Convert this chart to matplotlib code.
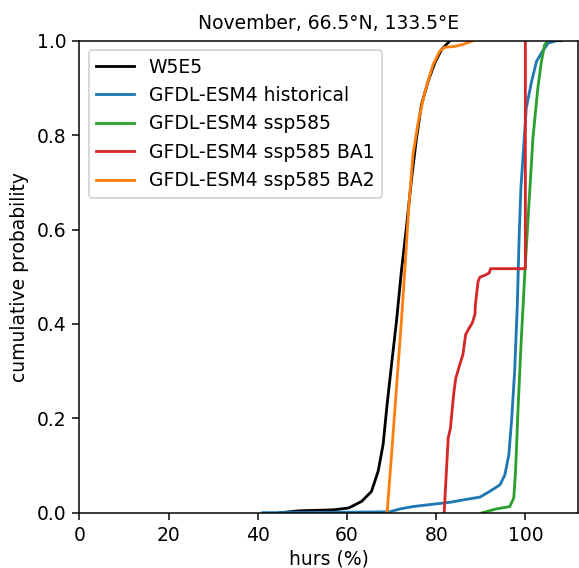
import matplotlib
matplotlib.use("Agg")
import matplotlib.pyplot as plt

# ---------- data -------------------------------------------------------------
TITLE = "November, 66.5°N, 133.5°E"

w5e5_x = [45.0, 49.4, 56.9, 60.4, 63.3, 65.5, 67.0, 68.1, 69.0, 70.0, 71.1,
          72.2, 73.4, 74.5, 75.6, 76.7, 78.2, 79.7, 81.2, 83.1]
w5e5_y = [0.0, 0.004, 0.006, 0.010, 0.024, 0.045, 0.088, 0.144, 0.229, 0.314,
          0.405, 0.511, 0.610, 0.709, 0.794, 0.864, 0.914, 0.953, 0.981, 1.0]

hist_x = [41.1, 60.0, 69.6, 71.9, 74.8, 79.3, 83.1, 86.0, 89.8, 92.0, 94.3,
          95.4, 96.3, 96.9, 97.6, 98.2, 98.6, 99.0, 99.5, 100.2, 101.4,
          102.5, 103.6, 105.1, 107.0, 108.1]
hist_y = [0.0, 0.001, 0.002, 0.008, 0.013, 0.018, 0.022, 0.027, 0.033, 0.045,
          0.059, 0.080, 0.123, 0.194, 0.300, 0.441, 0.582, 0.688, 0.758,
          0.857, 0.914, 0.956, 0.974, 0.995, 1.0, 1.0]

ssp_x = [90.4, 93.5, 96.5, 97.4, 97.8, 98.4, 99.1, 99.9, 100.8, 101.7,
         102.8, 103.6, 104.3, 105.1]
ssp_y = [0.0, 0.008, 0.013, 0.031, 0.088, 0.229, 0.370, 0.511, 0.653, 0.794,
         0.900, 0.956, 0.991, 1.0]

ba1_x = [81.8, 82.3, 82.7, 83.2, 83.7, 84.0, 84.4, 85.3, 86.0, 86.6, 87.2,
         88.1, 88.7, 88.8, 89.4, 89.8, 90.9, 91.9, 92.2, 100.0, 100.0]
ba1_y = [0.0, 0.088, 0.158, 0.179, 0.229, 0.257, 0.285, 0.314, 0.335, 0.377,
         0.388, 0.402, 0.420, 0.441, 0.490, 0.499, 0.503, 0.508, 0.517, 0.517,
         1.0]

ba2_x = [69.0, 70.0, 71.1, 72.2, 73.2, 73.9, 74.8, 76.0, 77.5, 79.3, 80.8,
         81.9, 84.2, 86.0, 86.8, 88.3]
ba2_y = [0.0, 0.123, 0.264, 0.405, 0.547, 0.653, 0.758, 0.829, 0.893, 0.949,
         0.978, 0.986, 0.988, 0.992, 0.995, 1.0]

SERIES = [
    ("W5E5", w5e5_x, w5e5_y, "k"),
    ("GFDL-ESM4 historical", hist_x, hist_y, "C0"),
    ("GFDL-ESM4 ssp585", ssp_x, ssp_y, "C2"),
    ("GFDL-ESM4 ssp585 BA1", ba1_x, ba1_y, "C3"),
    ("GFDL-ESM4 ssp585 BA2", ba2_x, ba2_y, "C1"),
]

# ---------- figure -----------------------------------------------------------
DPI = 135
W_PX, H_PX = 579, 568
fig = plt.figure(figsize=(W_PX / DPI, H_PX / DPI), dpi=DPI)
ax = fig.add_axes([79.3 / W_PX, 55.3 / H_PX, 498.7 / W_PX, 472.0 / H_PX])

for label, xs, ys, color in SERIES:
    ax.plot(xs, ys, color=color, lw=1.5, label=label)

ax.set_xlim(0, 111.8)
ax.set_ylim(0, 1)
ax.set_xlabel("hurs (%)", labelpad=2.5)
ax.set_ylabel("cumulative probability")
ax.set_title(TITLE, fontsize=10)
ax.legend(loc="upper left")

fig.savefig("out.png", dpi=DPI)
